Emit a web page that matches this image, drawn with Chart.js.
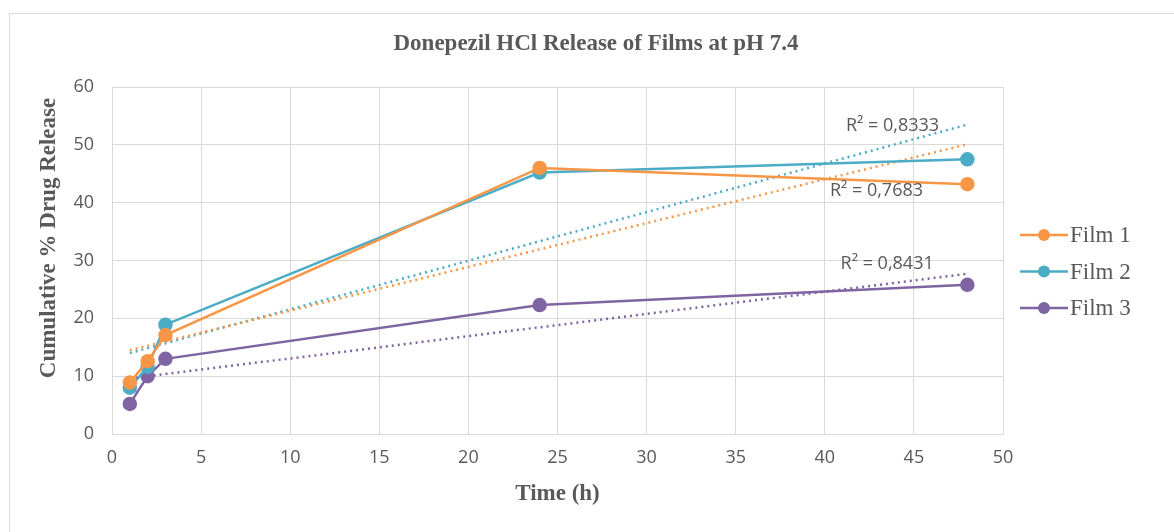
<!DOCTYPE html>
<html>
<head>
<meta charset="utf-8">
<script src="https://cdn.jsdelivr.net/npm/chart.js@4"></script>
<style>
  html, body { margin: 0; padding: 0; background: #fff; }
  #wrap { position: relative; width: 1174px; height: 532px; }
</style>
</head>
<body>
<div id="wrap"><canvas id="releaseChart" width="1174" height="532"></canvas></div>
<script>
// Données
const timePoints = [1, 2, 3, 24, 48];
const film1 = [8.9, 12.6, 17.1, 46.0, 43.2];
const film2 = [8.0, 11.6, 18.9, 45.2, 47.5];
const film3 = [5.2, 10.0, 13.0, 22.3, 25.8];

// Courbes de tendance (extrémités à t = 1 et t = 48)
const trendX = [1, 48];
const film1Trend = [14.5, 50.1];
const film2Trend = [14.0, 53.5];
const film3Trend = [9.6, 27.7];
const r2Labels = ["R² = 0,7683", "R² = 0,8333", "R² = 0,8431"];

const seriesNames = ["Film 1", "Film 2", "Film 3"];
const colors = ["#F79646", "#4BACC6", "#8064A2"];

const toPoints = (xs, ys) => xs.map((x, i) => ({ x: x, y: ys[i] }));

const datasets = [film1, film2, film3].map((vals, i) => ({
  label: seriesNames[i],
  data: toPoints(timePoints, vals),
  showLine: true,
  borderColor: colors[i],
  backgroundColor: colors[i],
  borderWidth: 2.5,
  pointRadius: 6,
  pointHoverRadius: 6,
  order: 1,
}));

[film1Trend, film2Trend, film3Trend].forEach((vals, i) => {
  datasets.push({
    label: "trend " + seriesNames[i],
    data: toPoints(trendX, vals),
    showLine: true,
    borderColor: colors[i],
    borderWidth: 2.5,
    borderDash: [2, 4],
    pointRadius: 0,
    order: 2,
  });
});

// Position des étiquettes R² (en unités du graphique)
const r2Pos = [
  { x: 42.9, y: 42.0 },
  { x: 43.8, y: 53.3 },
  { x: 43.5, y: 29.4 },
];

const serif = "'Liberation Serif', 'Times New Roman', serif";
const sans = "'Open Sans', sans-serif";

const decorPlugin = {
  id: "decor",
  beforeDraw(chart) {
    const c = chart.ctx;
    c.save();
    c.fillStyle = "#fff";
    c.fillRect(0, 0, chart.width, chart.height);
    c.strokeStyle = "#d9d9d9";
    c.lineWidth = 1;
    c.strokeRect(9.5, 13.5, 1300, 700);
    c.restore();
  },
  afterDraw(chart) {
    const c = chart.ctx;
    const xs = chart.scales.x, ys = chart.scales.y;
    c.save();
    // titre
    c.fillStyle = "#595959";
    c.font = "bold 23px " + serif;
    c.textAlign = "center";
    c.textBaseline = "middle";
    c.fillText("Donepezil HCl Release of Films at pH 7.4", 596, 44);

    // titre de l'axe Y
    c.save();
    c.translate(49, 238);
    c.rotate(-Math.PI / 2);
    c.fillText("Cumulative % Drug Release", 0, 0);
    c.restore();

    // étiquettes R²
    c.font = "18px " + sans;
    c.fillStyle = "#595959";
    r2Labels.forEach((txt, i) => {
      c.fillText(txt, xs.getPixelForValue(r2Pos[i].x), ys.getPixelForValue(r2Pos[i].y));
    });

    // légende
    c.textAlign = "left";
    c.font = "23px " + serif;
    seriesNames.forEach((name, i) => {
      const y = 235 + i * 36.5;
      c.strokeStyle = colors[i];
      c.fillStyle = colors[i];
      c.lineWidth = 2.5;
      c.beginPath();
      c.moveTo(1020, y);
      c.lineTo(1068, y);
      c.stroke();
      c.beginPath();
      c.arc(1044, y, 6, 0, Math.PI * 2);
      c.fill();
      c.fillStyle = "#595959";
      c.fillText(name, 1070, y + 1);
    });
    c.restore();
  },
};

const ctx = document.getElementById("releaseChart").getContext("2d");
const releaseChart = new Chart(ctx, {
  type: "scatter",
  data: { datasets: datasets },
  options: {
    responsive: false,
    animation: false,
    layout: { padding: { left: 36, top: 87, right: 171, bottom: 24 } },
    plugins: {
      legend: { display: false },
      title: { display: false },
      tooltip: { enabled: false },
    },
    scales: {
      x: {
        type: "linear",
        min: 0,
        max: 50,
        ticks: { stepSize: 5, color: "#595959", font: { family: sans, size: 18 }, padding: 13 },
        grid: { color: "#d9d9d9", drawTicks: false },
        border: { color: "#d9d9d9" },
        title: {
          display: true,
          text: "Time (h)",
          color: "#595959",
          font: { family: serif, size: 23, weight: "bold" },
          padding: 0,
        },
        afterFit(scale) { scale.height = 74; },
      },
      y: {
        min: 0,
        max: 60,
        ticks: { stepSize: 10, color: "#595959", font: { family: sans, size: 18 }, padding: 18 },
        grid: { color: "#d9d9d9", drawTicks: false },
        border: { color: "#d9d9d9" },
        afterFit(scale) { scale.width = 76; },
      },
    },
  },
  plugins: [decorPlugin],
});
</script>
</body>
</html>
